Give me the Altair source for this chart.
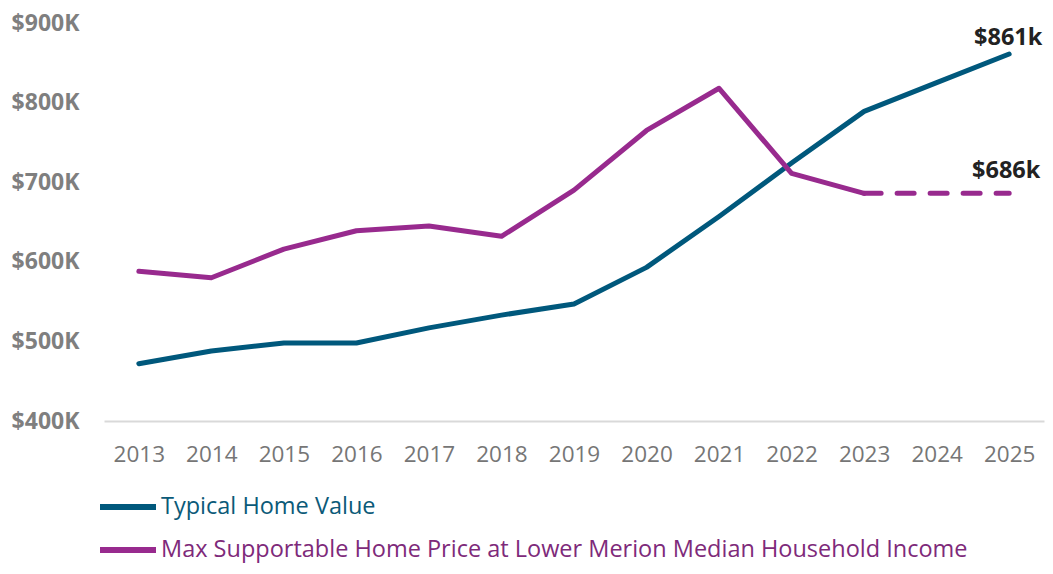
import altair as alt
import pandas as pd

years = [2013, 2014, 2015, 2016, 2017, 2018, 2019, 2020, 2021, 2022, 2023, 2024, 2025]
home_value_k = [472, 488, 498, 498, 517, 533, 547, 593, 657, 724, 789, 825, 861]
max_price_k = [588, 580, 616, 639, 645, 632, 690, 765, 818, 711, 686, 686, 686]
projected_from = 2023  # purple series is dashed from this year on

s_home = "Typical Home Value"
s_max = "Max Supportable Home Price at Lower Merion Median Household Income"
teal = "#00587C"
purple = "#982A8E"

rows = []
for y, v in zip(years, home_value_k):
    rows.append({"year": str(y), "value": v * 1000, "series": s_home, "part": "solid"})
for y, v in zip(years, max_price_k):
    if y <= projected_from:
        rows.append({"year": str(y), "value": v * 1000, "series": s_max, "part": "solid"})
    if y >= projected_from:
        rows.append({"year": str(y), "value": v * 1000, "series": s_max, "part": "dash"})
df = pd.DataFrame(rows)

end_df = pd.DataFrame([
    {"year": str(years[-1]), "value": home_value_k[-1] * 1000, "label": f"${home_value_k[-1]}k", "series": s_home},
    {"year": str(years[-1]), "value": max_price_k[-1] * 1000, "label": f"${max_price_k[-1]}k", "series": s_max},
])

FONT = "Open Sans"

x = alt.X("year:O", title=None,
          scale=alt.Scale(type="point", padding=0.48),
          axis=alt.Axis(labelAngle=0, ticks=False, domain=True, domainColor="#D9D9D9",
                        domainWidth=2, grid=False, labelFont=FONT, labelFontSize=22.5,
                        labelColor="#767676", labelPadding=22))
y = alt.Y("value:Q", title=None,
          scale=alt.Scale(domain=[400000, 900000], nice=False, zero=False),
          axis=alt.Axis(values=[400000, 500000, 600000, 700000, 800000, 900000],
                        labelExpr="'$' + format(datum.value / 1000, 'd') + 'K'",
                        ticks=False, domain=False, grid=False, labelFont=FONT,
                        labelFontSize=23, labelFontWeight="bold", labelColor="#7F7F7F",
                        labelPadding=25))

color = alt.Color("series:N",
                  scale=alt.Scale(domain=[s_home, s_max], range=[teal, purple]),
                  legend=alt.Legend(orient="none", legendX=-7, legendY=453,
                                    direction="vertical", title=None,
                                    symbolType="stroke", symbolSize=3136,
                                    symbolStrokeWidth=6, labelFont=FONT,
                                    labelFontSize=23.5, labelOffset=2, rowPadding=-13,
                                    labelLimit=1200,
                                    labelColor=alt.ExprRef(expr="datum.value == 'Typical Home Value' ? '#0B5A78' : '#7E2A7A'")))

solid = alt.Chart(df).transform_filter(alt.datum.part == "solid").mark_line(
    strokeWidth=5, strokeCap="round", strokeJoin="round"
).encode(x=x, y=y, color=color, detail="series:N")

dashed = alt.Chart(df).transform_filter(alt.datum.part == "dash").mark_line(
    strokeWidth=5, strokeCap="round", strokeJoin="round", strokeDash=[17, 16]
).encode(x=x, y=y, color=alt.value(purple))

label_home = alt.Chart(end_df).transform_filter(alt.datum.series == s_home).mark_text(
    font=FONT, fontSize=23.5, fontWeight="bold", color="#222222", align="center",
    baseline="middle", dx=-1, dy=-16
).encode(x=x, y=y, text="label:N")

label_max = alt.Chart(end_df).transform_filter(alt.datum.series == s_max).mark_text(
    font=FONT, fontSize=23.5, fontWeight="bold", color="#222222", align="center",
    baseline="middle", dx=-3, dy=-22
).encode(x=x, y=y, text="label:N")

chart = alt.layer(solid, dashed, label_home, label_max).properties(
    width=940, height=398,
    autosize=alt.AutoSizeParams(type="none"),
    padding={"left": 96, "top": 15, "right": 1, "bottom": 143},
).configure_view(stroke=None)

chart.save("out.html", embed_options={"renderer": "svg", "actions": False})
